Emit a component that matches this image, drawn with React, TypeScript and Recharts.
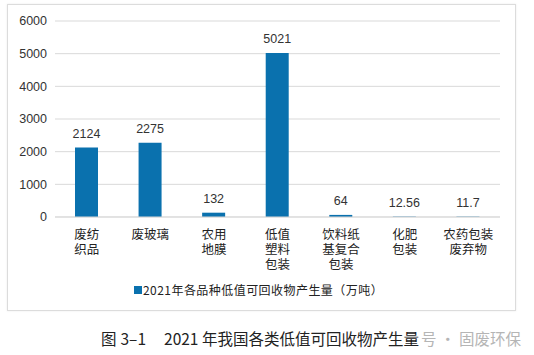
import React from "react";
import { BarChart, Bar, XAxis, YAxis, CartesianGrid, LabelList } from "recharts";

const categories = ["废纺\n织品", "废玻璃", "农用\n地膜", "低值\n塑料\n包装", "饮料纸\n基复合\n包装", "化肥\n包装", "农药包装\n废弃物"];
const values = [2124, 2275, 132, 5021, 64, 12.56, 11.7];
const valueLabels = ["2124", "2275", "132", "5021", "64", "12.56", "11.7"];
const yTicks = [0, 1000, 2000, 3000, 4000, 5000, 6000];

const rows = categories.map((c, i) => ({ name: c, value: values[i], label: valueLabels[i] }));

const BAR_COLOR = "#0a71ae";
const FONT = "'Liberation Sans', 'Noto Sans CJK SC', sans-serif";
const CJK = "'Noto Sans CJK SC', sans-serif";

// one <text> per category, lines as tspans
function CategoryTick(props: any) {
    const { x, y, payload } = props;
    const lines = String(payload.value).split("\n");
    return (
        <text
            x={x}
            y={y + 14}
            textAnchor="middle"
            fontSize={12.5}
            fill="#222"
            fontFamily={FONT}
        >
            {lines.map((l, i) => (
                <tspan key={i} x={x} dy={i === 0 ? 0 : 15}>
                    {l}
                </tspan>
            ))}
        </text>
    );
}

export default function App() {
    return (
        <div style={{ position: "absolute", left: 0, top: 0, width: 534, height: 355, background: "#fff", fontFamily: FONT }}>
            <div
                style={{
                    position: "absolute",
                    left: 7,
                    top: 4,
                    width: 507,
                    height: 305,
                    border: "1px solid #dcdcdc",
                    boxShadow: "0 0 2px rgba(0,0,0,0.08)",
                }}
            />
            <div style={{ position: "absolute", left: 0, top: 0 }}>
                <BarChart
                    width={534}
                    height={310}
                    data={rows}
                    margin={{ top: 21, right: 34, bottom: 0, left: 0 }}
                >
                    <CartesianGrid vertical={false} stroke="#d9d9d9" />
                    <XAxis
                        dataKey="name"
                        height={93}
                        tick={<CategoryTick />}
                        tickLine={false}
                        axisLine={{ stroke: "#d9d9d9" }}
                        interval={0}
                    />
                    <YAxis
                        width={55}
                        domain={[0, 6000]}
                        ticks={yTicks}
                        tickLine={false}
                        axisLine={false}
                        tick={{ fontSize: 12.5, fill: "#333", fontFamily: FONT }}
                    />
                    <Bar dataKey="value" fill={BAR_COLOR} barSize={23} isAnimationActive={false}>
                        <LabelList
                            dataKey="label"
                            position="top"
                            offset={10}
                            style={{ fontSize: 12.5, fill: "#333", fontFamily: FONT }}
                        />
                    </Bar>
                </BarChart>
            </div>
            <div
                style={{
                    position: "absolute",
                    left: 134,
                    top: 281,
                    display: "flex",
                    alignItems: "center",
                    fontSize: 12,
                    color: "#222",
                    fontFamily: CJK,
                    whiteSpace: "nowrap",
                    letterSpacing: 0.45,
                }}
            >
                <span style={{ width: 8, height: 8, background: BAR_COLOR, display: "inline-block", marginRight: 1 }} />
                <span>2021年各品种低值可回收物产生量（万吨）</span>
            </div>
            <div
                style={{
                    position: "absolute",
                    left: 101,
                    top: 327,
                    fontSize: 15.5,
                    color: "#222",
                    fontFamily: CJK,
                    whiteSpace: "nowrap",
                }}
            >
                <span>图</span>
                <span style={{ marginLeft: 4 }}>3–1</span>
                <span style={{ marginLeft: 18 }}>2021 年我国各类低值可回收物产生量</span>
            </div>
            <div
                style={{
                    position: "absolute",
                    left: 421,
                    top: 327,
                    fontSize: 15.5,
                    color: "#b5b5b5",
                    fontFamily: CJK,
                    whiteSpace: "nowrap",
                }}
            >
                号 · 固废环保
            </div>
        </div>
    );
}
